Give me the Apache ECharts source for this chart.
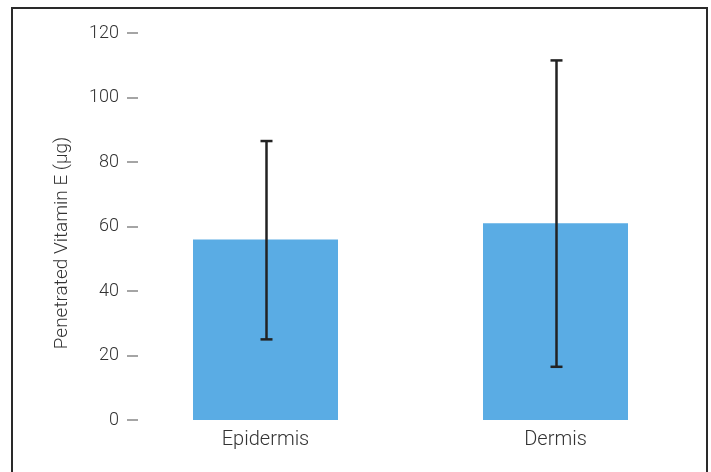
<!DOCTYPE html>
<html>
<head>
<meta charset="utf-8">
<script src="https://cdn.jsdelivr.net/npm/echarts@6/dist/echarts.min.js"></script>
<style>
  html, body { margin: 0; padding: 0; background: #fff; }
  #frame {
    position: absolute; left: 11px; top: 7px; width: 697px; height: 480px;
    border: 2px solid #2a2a2a; box-sizing: border-box;
  }
  #chart { position: absolute; left: 0; top: 0; width: 711px; height: 472px; }
</style>
</head>
<body>
<div id="frame"></div>
<div id="chart"></div>
<script>
// categories and values
const categories = ['Epidermis', 'Dermis']
const means = [56, 61]
const lowErr = [25, 16.5]
const highErr = [86.5, 111.5]
const yTicks = [0, 20, 40, 60, 80, 100, 120]

const font = 'Roboto, "Liberation Sans", sans-serif'
const myChart = echarts.init(document.getElementById('chart'))

myChart.setOption({
  animation: false,
  grid: { left: 120.5, right: 10.5, top: 33, bottom: 52 },
  xAxis: {
    type: 'category',
    data: categories,
    axisLine: { show: false },
    axisTick: { show: false },
    axisLabel: { color: '#333', fontSize: 20, fontFamily: font, fontWeight: 300, margin: 10 }
  },
  yAxis: {
    type: 'value',
    min: yTicks[0],
    max: yTicks[yTicks.length - 1],
    interval: 20,
    offset: -17.5,
    axisLine: { show: false },
    axisTick: { show: true, length: 11, lineStyle: { color: '#888', width: 1.5 } },
    splitLine: { show: false },
    axisLabel: { color: '#333', fontSize: 18, fontFamily: font, fontWeight: 300, margin: 19 }
  },
  graphic: [{
    type: 'text',
    x: 62,
    y: 243,
    rotation: Math.PI / 2,
    style: {
      text: 'Penetrated Vitamin E (µg)',
      fill: '#333',
      font: '300 19px ' + font,
      align: 'center',
      verticalAlign: 'middle'
    }
  }],
  series: [
    {
      name: 'mean',
      type: 'bar',
      barWidth: '50%',
      itemStyle: { color: '#5aace4' },
      data: means
    },
    {
      name: 'error',
      type: 'custom',
      z: 10,
      data: categories.map((c, i) => [i, lowErr[i], highErr[i]]),
      renderItem (params, api) {
        const x = api.coord([api.value(0), 0])[0] + 1
        const lo = api.coord([api.value(0), api.value(1)])[1]
        const hi = api.coord([api.value(0), api.value(2)])[1]
        const cap = 6
        const style = { stroke: '#222', lineWidth: 2.5 }
        return {
          type: 'group',
          children: [
            { type: 'line', shape: { x1: x, y1: lo, x2: x, y2: hi }, style: style },
            { type: 'line', shape: { x1: x - cap, y1: hi, x2: x + cap, y2: hi }, style: style },
            { type: 'line', shape: { x1: x - cap, y1: lo, x2: x + cap, y2: lo }, style: style }
          ]
        }
      }
    }
  ]
})
</script>
</body>
</html>
